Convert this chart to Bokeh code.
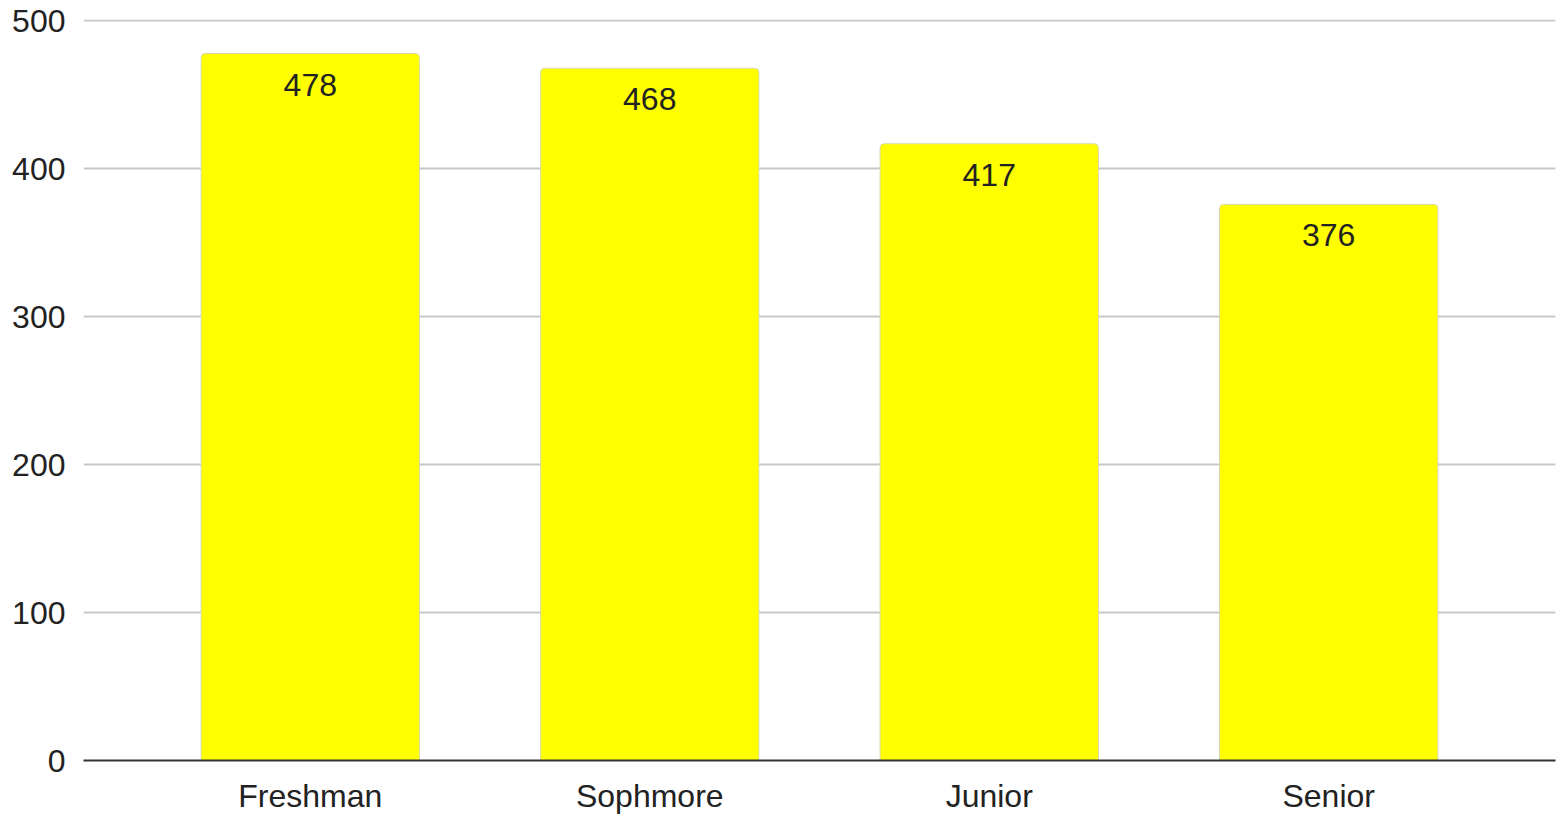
from bokeh.plotting import figure
from bokeh.models import ColumnDataSource, LabelSet, FixedTicker, Range1d, FactorRange
from bokeh.core.properties import value
from bokeh.embed import file_html
from bokeh.resources import INLINE

categories = ["Freshman", "Sophmore", "Junior", "Senior"]
counts = [478, 468, 417, 376]
y_ticks = [0, 100, 200, 300, 400, 500]

src = ColumnDataSource(dict(cat=categories, val=counts, lab=[str(v) for v in counts]))

p = figure(x_range=FactorRange(*categories, range_padding=0.084), y_range=Range1d(0, 501),
           width=1556, height=816, output_backend="svg", toolbar_location=None,
           min_border_left=83, min_border_right=1, min_border_top=19, min_border_bottom=50)
p.outline_line_color = None
p.background_fill_color = "white"

p.vbar(x="cat", top="val", width=0.643, source=src, fill_color="#ffff00",
       line_color="#d8d8b0", line_width=1, border_radius=[4, 4, 0, 0])

labels = LabelSet(x="cat", y="val", text="lab", source=src, text_align="center",
                  text_baseline="top", y_offset=-20, text_font=value("Liberation Sans"),
                  text_font_size="32px", text_color="#222222")
p.add_layout(labels)

p.yaxis.ticker = FixedTicker(ticks=y_ticks)
p.yaxis.axis_line_color = None
p.yaxis.major_tick_line_color = None
p.yaxis.minor_tick_line_color = None
p.yaxis.major_tick_out = 0
p.yaxis.major_label_standoff = 18
p.yaxis.major_label_text_font = "Liberation Sans"
p.yaxis.major_label_text_font_size = "32px"
p.yaxis.major_label_text_color = "#222222"

p.xaxis.axis_line_color = "#333333"
p.xaxis.axis_line_width = 2
p.xaxis.major_tick_line_color = None
p.xaxis.minor_tick_line_color = None
p.xaxis.major_tick_out = 0
p.xaxis.major_label_standoff = 17
p.xaxis.major_label_text_font = "Liberation Sans"
p.xaxis.major_label_text_font_size = "32px"
p.xaxis.major_label_text_color = "#222222"

p.xgrid.grid_line_color = None
p.ygrid.grid_line_color = "#c8c8c8"
p.ygrid.grid_line_width = 2

open("out.html", "w").write(file_html(p, INLINE))
